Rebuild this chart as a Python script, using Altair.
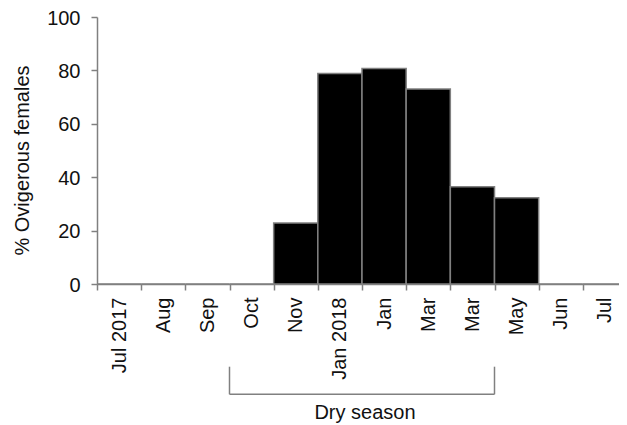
import json
import altair as alt
import pandas as pd

# ---- data ----
months = ["Jul 2017", "Aug", "Sep", "Oct", "Nov", "Jan 2018", "Jan", "Mar", "Mar", "May", "Jun", "Jul"]
ovigerous = [0, 0, 0, 0, 22.8, 78.8, 80.7, 73.0, 36.4, 32.3, 0, 0]
y_ticks = [0, 20, 40, 60, 80, 100]
dry_first = 3   # first dry-season band (Oct)
dry_last = 8    # last dry-season band (second Mar)
dry_label = "Dry season"
y_title = "% Ovigerous females"

FONT = "Liberation Sans"
TEXT = "#111111"
GRAY = "#808080"

n = len(months)
df = pd.DataFrame({"idx": list(range(n)), "month": months, "value": ovigerous})
label_expr = json.dumps(months) + "[datum.value]"

W, H = 530, 267

bars = alt.Chart(df).mark_bar(color="black", stroke=GRAY, strokeWidth=1.5).encode(
    x=alt.X(
        "idx:O",
        scale=alt.Scale(paddingInner=0, paddingOuter=0),
        axis=alt.Axis(
            title=None, labelExpr=label_expr, labelAngle=270, labelFontSize=20,
            labelPadding=7, tickBand="extent", tickSize=6, tickColor=GRAY,
            domainColor=GRAY, labelColor=TEXT, labelFont=FONT, domainWidth=1.5, tickWidth=1.5,
        ),
    ),
    y=alt.Y(
        "value:Q",
        scale=alt.Scale(domain=[0, 100], nice=False),
        axis=alt.Axis(
            values=y_ticks, title=y_title, titleX=-75, titleY=143, titleAngle=270,
            titleAlign="center", titleBaseline="middle", titleFontSize=20,
            titleFontWeight="normal", titleFont=FONT, titleColor=TEXT,
            labelFontSize=20, labelPadding=11, labelOffset=1, labelFont=FONT, labelColor=TEXT,
            tickSize=6, tickColor=GRAY, domainColor=GRAY, grid=False,
            domainWidth=1.5, tickWidth=1.5,
        ),
    ),
)

bx = alt.Scale(domain=[0, n], nice=False, zero=False)

edges = pd.DataFrame({"pos": [dry_first, dry_last + 1]})
verticals = alt.Chart(edges).mark_rule(color=GRAY, strokeWidth=1.5).encode(
    x=alt.X("pos:Q", scale=bx, axis=None),
    y=alt.value(349.7),
    y2=alt.value(377.3),
)

span = pd.DataFrame({"start": [dry_first], "end": [dry_last + 1]})
horizontal = alt.Chart(span).mark_rule(color=GRAY, strokeWidth=1.5).encode(
    x=alt.X("start:Q", scale=bx, axis=None),
    x2="end:Q",
    y=alt.value(377.3),
)

lab = pd.DataFrame({"mid": [(dry_first + dry_last + 1) / 2], "text": [dry_label]})
label = alt.Chart(lab).mark_text(
    font=FONT, fontSize=20, color=TEXT, baseline="alphabetic", align="center", dx=3
).encode(
    x=alt.X("mid:Q", scale=bx, axis=None),
    y=alt.value(402),
    text="text:N",
)

chart = (
    alt.layer(bars, verticals, horizontal, label)
    .resolve_scale(x="independent")
    .properties(
        width=W, height=H,
        autosize=alt.AutoSizeParams(type="none"),
        padding={"left": 89, "top": 9, "right": -8, "bottom": 140},
        background="white",
    )
    .configure_view(stroke=None)
)

chart.save("out.html", embed_options={"renderer": "svg", "actions": False})
